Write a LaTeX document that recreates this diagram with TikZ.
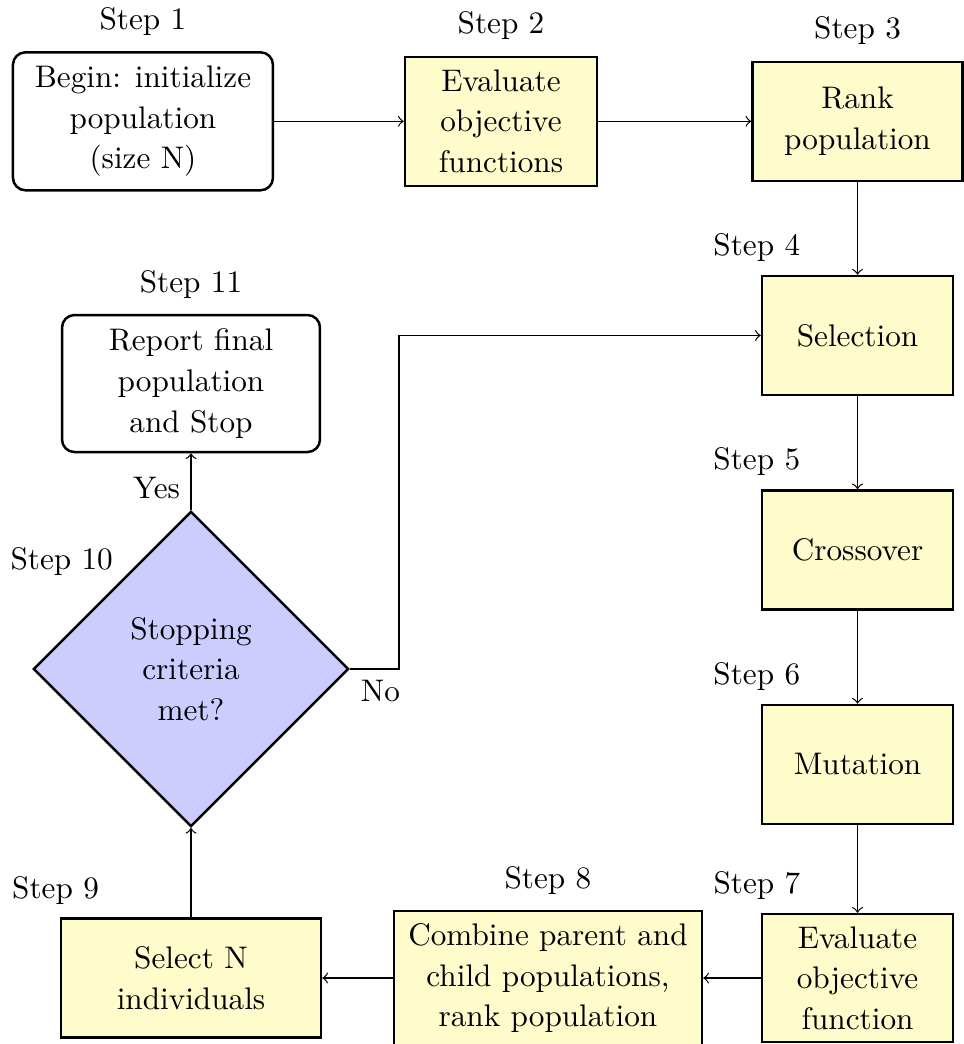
\documentclass[tikz,border=0pt]{standalone}
\usetikzlibrary{shapes.geometric}
\begin{document}
\begin{tikzpicture}[label distance=1.5pt,
        box node/.style={draw, thick, fill=yellow!20, align=center,
          font=\fontsize{10}{13}\selectfont, minimum width=2.151cm, minimum height=1.34cm},
        end node/.style={box node, fill=white, rounded corners},
        test node/.style={diamond, draw, thick, fill=blue!20, align=center,
          font=\fontsize{10}{13}\selectfont, minimum width=3.55cm, minimum height=3.55cm}]
      \useasboundingbox (0,0) rectangle (10.845,-11.757);
      \node[end node, minimum width=2.928cm, minimum height=1.554cm, label=above:Step 1] (init) at (1.610,-1.366) {Begin: initialize\\population\\(size N)};
      \node[box node, minimum width=2.162cm, minimum height=1.453cm, label=above:Step 2] (evalall) at (5.642,-1.366) {Evaluate\\objective\\functions};
      \node[box node, minimum width=2.365cm, label=above:Step 3] (rank) at (9.657,-1.366) {Rank\\population};
      \node[box node, label={[anchor=south]north west:Step 4}] (select) at (9.657,-3.778) {Selection};
      \node[box node, label={[anchor=south]north west:Step 5}] (cross) at (9.657,-6.194) {Crossover};
      \node[box node, label={[anchor=south]north west:Step 6}] (mutate) at (9.657,-8.609) {Mutation};
      \node[box node, minimum height=1.441cm, label={[anchor=south]north west:Step 7}] (evalone) at (9.657,-11.014) {Evaluate\\objective\\function};
      \node[box node, minimum width=3.468cm, minimum height=1.509cm, label=above:Step 8] (combine) at (6.171,-11.014) {Combine parent and\\child populations,\\rank population};
      \node[box node, minimum width=2.928cm, label={[anchor=south]north west:Step 9}] (pick) at (2.151,-11.014) {Select N\\individuals};
      \node[test node, label={[xshift=5pt]north west:Step 10}] (stop) at (2.151,-7.534) {Stopping\\criteria\\met?};
      \node[end node, minimum width=2.905cm, minimum height=1.543cm, label=above:Step 11] (report) at (2.151,-4.319) {Report final\\population\\and Stop};
      \path (init) edge [->] (evalall)
            (evalall) edge [->] (rank)
            (rank) edge [->] (select)
            (select) edge [->] (cross)
            (cross) edge [->] (mutate)
            (mutate) edge [->] (evalone)
            (evalone) edge [->] (combine)
            (combine) edge [->] (pick)
            (pick) edge [->] (stop)
            (stop) edge [->] node [pos=0, above left] {Yes} (report);
      \draw[->] (stop.east) -- node [pos=0, below right] {No} ++(0.552,0) |- (select);
    \end{tikzpicture}
\end{document}
